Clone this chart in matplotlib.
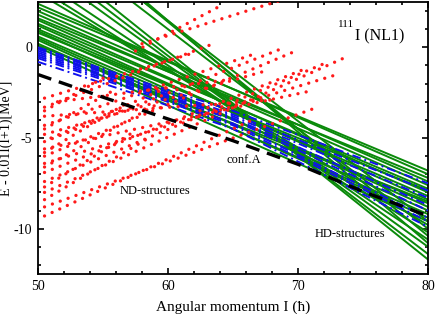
import matplotlib
matplotlib.use("Agg")
import matplotlib.pyplot as plt
from matplotlib.ticker import MultipleLocator

plt.rcParams["font.family"] = ["Liberation Serif", "DejaVu Serif"]
plt.rcParams["axes.unicode_minus"] = False

# ND-structures (red dotted bands): first and last state of each band
nd_i_start = [50.5, 50.5, 50.5, 50.5, 50.5, 50.5, 50.5, 50.5, 50.5,
              50.5, 50.5, 50.5, 50.5, 50.5, 57.5, 58.0, 51.5,
              50.5, 50.5, 50.5, 50.5, 51.0, 50.5, 50.5]
nd_e_start = [-9.3, -8.8, -8.0, -7.4, -6.9, -6.4, -6.0, -5.6, -5.2,
              -4.8, -4.3, -3.8, -3.3, -2.8, -0.2, 0.2, -3.0,
              -8.4, -7.7, -6.6, -5.8, -5.0, -4.5, -3.5]
nd_i_end = [66.5, 71.5, 73.5, 72.0, 70.5, 73.0, 69.5, 71.0, 69.0,
            67.5, 66.5, 68.0, 63.5, 62.0, 63.8, 68.7, 64.5,
            58.5, 57.5, 59.0, 57.0, 60.0, 56.0, 55.5]
nd_e_end = [-4.0, -3.3, -0.6, -0.9, -1.2, -1.5, -0.3, -2.4, 0.0,
            -1.3, -0.4, -2.9, 0.2, -0.3, 2.2, 2.6, -1.8,
            -5.0, -4.6, -3.2, -3.0, -2.2, -2.3, -1.5]

# HD-structures (green): energy at I=50 and I=80
hd_i = [50, 80]
hd_e_50 = [2.4, 2.2, 2.0, 1.8, 1.6, 1.5, 1.3, 1.2, 1.0, 0.9, 0.8, 0.6,
           0.5, 0.4, 0.2, 0.1, 0.0, 3.0, 3.3, 3.8, 4.5, 5.0, 5.5, 6.5,
           7.0, 7.3, 7.6]
hd_e_80 = [-7.0, -6.8, -7.4, -7.6, -7.2, -8.0, -7.8, -8.4, -8.2, -8.8,
           -7.9, -8.6, -9.0, -9.4, -9.2, -8.5, -9.6, -9.8, -10.2, -10.6,
           -11.0, -11.4, -11.7, -10.0, -9.6, -10.4, -10.8]

# blue dash-dot bands at I = 50, 58, 65, 80
blue_i = [50, 58, 65, 80]
blue_e = [
    [0.0, -1.9, -3.5, -7.5],
    [-0.1, -2.0, -3.7, -7.9],
    [-0.2, -2.1, -3.8, -8.3],
    [-0.3, -2.2, -3.9, -8.7],
    [-0.4, -2.3, -4.0, -9.0],
    [-0.5, -2.4, -4.2, -9.4],
    [-0.6, -2.5, -4.3, -9.6],
    [-0.8, -2.7, -4.5, -9.9],
]

# conf.A (black dashed)
conf_a_i = [50, 55, 60, 65, 70, 75, 80]
conf_a_e = [-1.5, -2.75, -3.95, -5.15, -6.45, -7.95, -9.3]

fig = plt.figure(figsize=(4.36, 3.14), dpi=100)
ax = fig.add_axes([0.0872, 0.1274, 0.8945, 0.8662])

for e0, e1 in zip(hd_e_50, hd_e_80):
    ax.plot(hd_i, [e0, e1], color="#0a8a0a", lw=1.4, zorder=2)

for band in blue_e:
    ax.plot(blue_i, band, color="#1010ee", lw=1.4,
            dashes=(4.5, 2, 1, 2), zorder=3)

for i0, e0, i1, e1 in zip(nd_i_start, nd_e_start, nd_i_end, nd_e_end):
    ax.plot([i0, i1], [e0, e1], color="#ff1a1a", lw=2.4,
            dashes=(0.01, 2.5), dash_capstyle="round", zorder=4)

ax.plot(conf_a_i, conf_a_e, color="black", lw=2.4, dashes=(4.2, 2.4), zorder=5)

ax.text(73.1, 1.25, "111", fontsize=8, ha="left", va="center")
ax.text(74.4, 0.6, "I (NL1)", fontsize=11.5, ha="left", va="center")
ax.text(64.5, -6.2, "conf.A", fontsize=9, ha="left", va="center")
ax.text(56.3, -7.9, "ND-structures", fontsize=9, ha="left", va="center")
ax.text(71.3, -10.3, "HD-structures", fontsize=9, ha="left", va="center")

ax.set_xlim(50, 80)
ax.set_ylim(-12.5, 2.5)
ax.xaxis.set_major_locator(MultipleLocator(10))
ax.xaxis.set_minor_locator(MultipleLocator(2))
ax.yaxis.set_major_locator(MultipleLocator(5))
ax.yaxis.set_minor_locator(MultipleLocator(1))
ax.tick_params(which="both", direction="in", top=True, right=True,
               labelsize=10, width=1.2, pad=4)
ax.tick_params(which="major", length=4.5)
ax.tick_params(which="minor", length=2.5)
for spine in ax.spines.values():
    spine.set_linewidth(1.3)

ax.set_xlabel("Angular momentum I (\u0127)", fontsize=11, labelpad=6)
ax.set_ylabel("E - 0.01I(I+1)[MeV]", fontsize=10, labelpad=1)

fig.savefig("out.png", dpi=100)
plt.close(fig)
